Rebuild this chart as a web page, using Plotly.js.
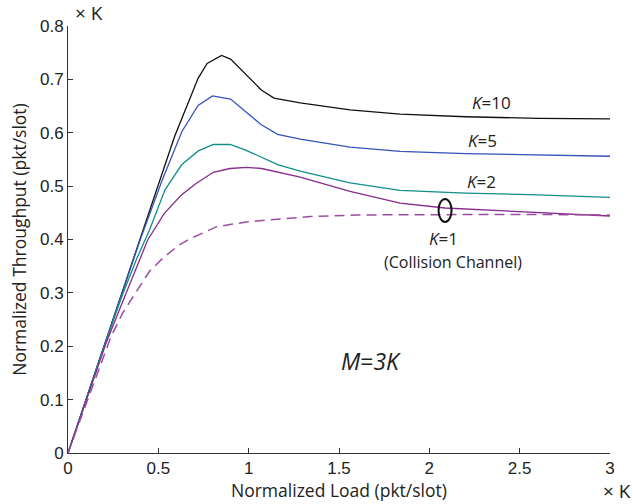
<!DOCTYPE html>
<html>
<head>
<meta charset="utf-8">
<script src="https://cdn.plot.ly/plotly-3.0.1.min.js"></script>
<style>html,body{margin:0;padding:0;background:#fff;}</style>
</head>
<body>
<div id="chart" style="width:633px;height:504px;"></div>
<script>
// Normalized load (x K) and normalized throughput (x K), M = 3K
const k10X = [0, 0.2, 0.4, 0.59, 0.72, 0.77, 0.85, 0.90, 1.07, 1.14, 1.285, 1.561, 1.838, 2.2, 2.6, 3.0];
const k10Y = [0, 0.2, 0.4, 0.593, 0.702, 0.730, 0.745, 0.738, 0.680, 0.665, 0.656, 0.643, 0.635, 0.630, 0.627, 0.626];

const k5X = [0, 0.2, 0.4, 0.52, 0.63, 0.72, 0.80, 0.90, 1.07, 1.16, 1.285, 1.561, 1.838, 2.2, 2.6, 3.0];
const k5Y = [0, 0.2, 0.4, 0.51, 0.602, 0.651, 0.669, 0.663, 0.615, 0.597, 0.588, 0.573, 0.565, 0.561, 0.558, 0.556];

const k2X = [0, 0.2, 0.3, 0.378, 0.451, 0.537, 0.629, 0.721, 0.804, 0.897, 0.98, 1.164, 1.285, 1.561, 1.838, 2.2, 2.557, 3.0];
const k2Y = [0, 0.2, 0.295, 0.362, 0.418, 0.493, 0.540, 0.566, 0.578, 0.578, 0.568, 0.540, 0.528, 0.506, 0.492, 0.487, 0.484, 0.479];

const k1X = [0, 0.21, 0.284, 0.358, 0.441, 0.533, 0.626, 0.709, 0.804, 0.897, 0.989, 1.072, 1.285, 1.561, 1.838, 2.087, 2.557, 3.0];
const k1Y = [0, 0.205, 0.268, 0.330, 0.399, 0.449, 0.483, 0.505, 0.526, 0.533, 0.535, 0.533, 0.517, 0.490, 0.468, 0.459, 0.451, 0.444];

const ccX = [0, 0.173, 0.238, 0.302, 0.367, 0.45, 0.524, 0.616, 0.68, 0.823, 0.989, 1.155, 1.34, 1.6, 2.0, 2.5, 3.0];
const ccY = [0, 0.156, 0.218, 0.262, 0.296, 0.340, 0.365, 0.390, 0.402, 0.424, 0.433, 0.438, 0.443, 0.446, 0.447, 0.447, 0.446];

const seriesNames = ['K=10', 'K=5', 'K=2', 'K=1', 'K=1 (Collision Channel)'];
const xTicks = [0, 0.5, 1, 1.5, 2, 2.5, 3];
const xTickText = ['0', '0.5', '1', '1.5', '2', '2.5', '3'];
const yTicks = [0, 0.1, 0.2, 0.3, 0.4, 0.5, 0.6, 0.7, 0.8];
const yTickText = ['0', '0.1', '0.2', '0.3', '0.4', '0.5', '0.6', '0.7', '0.8'];

const lw = 1.3;
const traces = [
  {x: k10X, y: k10Y, name: seriesNames[0], mode: 'lines', line: {color: '#111111', width: lw}},
  {x: k5X, y: k5Y, name: seriesNames[1], mode: 'lines', line: {color: '#3553b8', width: lw}},
  {x: k2X, y: k2Y, name: seriesNames[2], mode: 'lines', line: {color: '#0f8f88', width: lw}},
  {x: k1X, y: k1Y, name: seriesNames[3], mode: 'lines', line: {color: '#862a8c', width: lw}},
  {x: ccX, y: ccY, name: seriesNames[4], mode: 'lines', line: {color: '#9a4ea0', width: 1.5, dash: '10px,6px'}}
];

const fam = '"Open Sans", "DejaVu Sans", sans-serif';
const ink = '#222';
const titleFont = {family: fam, size: 17.5, color: ink};
const labFont = {family: fam, size: 17, color: ink};
const tickFont = {family: '"Liberation Sans", Arial, sans-serif', size: 17, color: ink};

const layout = {
  width: 633, height: 504,
  margin: {l: 68, r: 23, t: 26, b: 51, pad: 0},
  paper_bgcolor: '#fff', plot_bgcolor: '#fff',
  showlegend: false,
  xaxis: {
    range: [0, 3], tickvals: xTicks, ticktext: xTickText,
    showgrid: false, zeroline: false, showline: true, linecolor: '#333', linewidth: 1,
    ticks: 'inside', ticklen: 5, tickcolor: '#333',
    tickfont: tickFont,
    title: {text: 'Normalized Load (pkt/slot)', font: titleFont, standoff: 2}
  },
  yaxis: {
    range: [0, 0.8], tickvals: yTicks, ticktext: yTickText,
    showgrid: false, zeroline: false, showline: true, linecolor: '#333', linewidth: 1,
    ticks: 'inside', ticklen: 5, tickcolor: '#333',
    tickfont: tickFont,
    title: {text: 'Normalized Throughput (pkt/slot)', font: titleFont, standoff: 8}
  },
  shapes: [
    {type: 'circle', xref: 'x', yref: 'y', x0: 2.051, x1: 2.123, y0: 0.433, y1: 0.476,
     line: {color: '#111', width: 2}}
  ],
  annotations: [
    {x: 2.345, y: 0.657, xref: 'x', yref: 'y', text: '<i>K</i>=10', showarrow: false, font: labFont, xanchor: 'center', yanchor: 'middle'},
    {x: 2.295, y: 0.585, xref: 'x', yref: 'y', text: '<i>K</i>=5', showarrow: false, font: labFont, xanchor: 'center', yanchor: 'middle'},
    {x: 2.286, y: 0.509, xref: 'x', yref: 'y', text: '<i>K</i>=2', showarrow: false, font: labFont, xanchor: 'center', yanchor: 'middle'},
    {x: 2.077, y: 0.401, xref: 'x', yref: 'y', text: '<i>K</i>=1', showarrow: false, font: labFont, xanchor: 'center', yanchor: 'middle'},
    {x: 2.131, y: 0.357, xref: 'x', yref: 'y', text: '(Collision Channel)', showarrow: false,
     font: {family: fam, size: 16, color: ink}, xanchor: 'center', yanchor: 'middle'},
    {x: 1.676, y: 0.172, xref: 'x', yref: 'y', text: '<i>M</i>=<i>3K</i>', showarrow: false,
     font: {family: fam, size: 23, color: ink}, xanchor: 'center', yanchor: 'middle'},
    {x: 0.038, y: 1.031, xref: 'paper', yref: 'paper', text: '× K', showarrow: false,
     font: {family: fam, size: 19, color: ink}, xanchor: 'center', yanchor: 'middle'},
    {x: 1.013, y: -0.09, xref: 'paper', yref: 'paper', text: '× K', showarrow: false,
     font: {family: fam, size: 19, color: ink}, xanchor: 'center', yanchor: 'middle'}
  ]
};

Plotly.newPlot('chart', traces, layout, {displayModeBar: false, staticPlot: true});
</script>
</body>
</html>
